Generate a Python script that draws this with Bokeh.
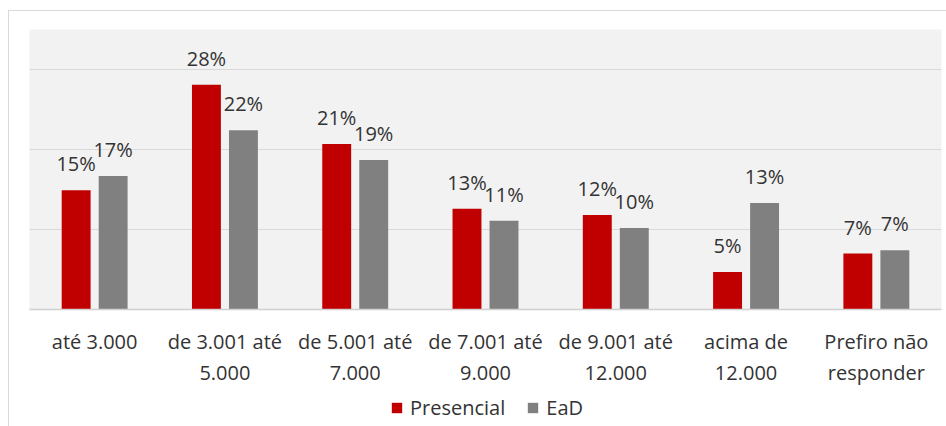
from bokeh.plotting import figure
from bokeh.layouts import column
from bokeh.models import ColumnDataSource, LabelSet, Legend, LegendItem, FixedTicker, FactorRange
from bokeh.core.properties import value
from bokeh.transform import dodge
from bokeh.embed import file_html
from bokeh.resources import INLINE

categories = ["até 3.000", "de 3.001 até\n5.000", "de 5.001 até\n7.000", "de 7.001 até\n9.000",
              "de 9.001 até\n12.000", "acima de\n12.000", "Prefiro não\nresponder"]
presencial = [14.9, 28.1, 20.7, 12.6, 11.8, 4.7, 7.0]
ead = [16.7, 22.4, 18.7, 11.1, 10.2, 13.3, 7.4]
series_names = ["Presencial", "EaD"]
grid_ticks = [0, 10, 20, 30]

RED = "#c00000"
GRAY = "#808080"
FONT = "Open Sans"
BORDER = {"border-left": "1px solid #d9d9d9"}

src = ColumnDataSource(dict(
    cat=categories,
    p=presencial,
    e=ead,
    p_lbl=[f"{int(v + 0.5)}%" for v in presencial],
    e_lbl=[f"{int(v + 0.5)}%" for v in ead],
))

p = figure(x_range=FactorRange(*categories, range_padding=0), y_range=(0, 35),
           width=938, height=382, output_backend="svg", toolbar_location=None,
           min_border_left=20, min_border_right=6, min_border_top=18, min_border_bottom=84)
p.margin = (10, 0, 0, 8)
p.styles = {"border-left": "1px solid #d9d9d9", "border-top": "1px solid #d9d9d9"}

p.background_fill_color = "#f2f2f2"
p.border_fill_color = "white"
p.outline_line_color = None

bw = 0.222
off = 0.142
p.vbar(x=dodge("cat", -off, range=p.x_range), top="p", width=bw, source=src,
       fill_color=RED, line_color=None)
p.vbar(x=dodge("cat", off, range=p.x_range), top="e", width=bw, source=src,
       fill_color=GRAY, line_color=None)

for col, lbl, o in (("p", "p_lbl", -off), ("e", "e_lbl", off)):
    ls = LabelSet(x=dodge("cat", o, range=p.x_range), y=col, text=lbl, source=src,
                  text_align="center", text_baseline="alphabetic", y_offset=19,
                  text_font=value(FONT), text_font_size="20px", text_color="#333333")
    p.add_layout(ls)

p.yaxis.visible = False
p.ygrid.ticker = FixedTicker(ticks=grid_ticks)
p.ygrid.grid_line_color = "#d9d9d9"
p.xgrid.grid_line_color = None

xa = p.xaxis[0]
xa.axis_line_color = "#d0d0d0"
xa.axis_line_width = 1.5
xa.major_tick_line_color = None
xa.minor_tick_line_color = None
xa.major_label_text_font = FONT
xa.major_label_text_font_size = "20px"
xa.major_label_text_color = "#333333"
xa.major_label_text_line_height = 1.17
xa.major_label_standoff = 12

# legend strip below the chart (proxy renderers lie outside the strip's visible range)
lf = figure(width=938, height=34, x_range=(0, 1), y_range=(0, 1), output_backend="svg",
            toolbar_location=None, min_border=0)
lf.margin = (0, 0, 0, 8)
lf.styles = BORDER
lf.axis.visible = False
lf.grid.visible = False
lf.outline_line_color = None
lf.background_fill_color = "white"
lf.border_fill_color = "white"
proxy = ColumnDataSource(dict(x=[-5], top=[-5]))
lr1 = lf.vbar(x="x", top="top", bottom=-6, width=0.1, source=proxy, fill_color=RED, line_color=None)
lr2 = lf.vbar(x="x", top="top", bottom=-6, width=0.1, source=proxy, fill_color=GRAY, line_color=None)

legend = Legend(items=[LegendItem(label=series_names[0], renderers=[lr1]),
                       LegendItem(label=series_names[1], renderers=[lr2])],
                orientation="horizontal", location=(361, 5),
                label_text_font=FONT, label_text_font_size="20px", label_text_color="#333333",
                glyph_width=13, glyph_height=13, label_standoff=7, spacing=21,
                border_line_color=None, background_fill_alpha=0, padding=0, margin=0)
lf.add_layout(legend)

layout = column(p, lf, spacing=0)
open("out.html", "w").write(file_html(layout, INLINE))
